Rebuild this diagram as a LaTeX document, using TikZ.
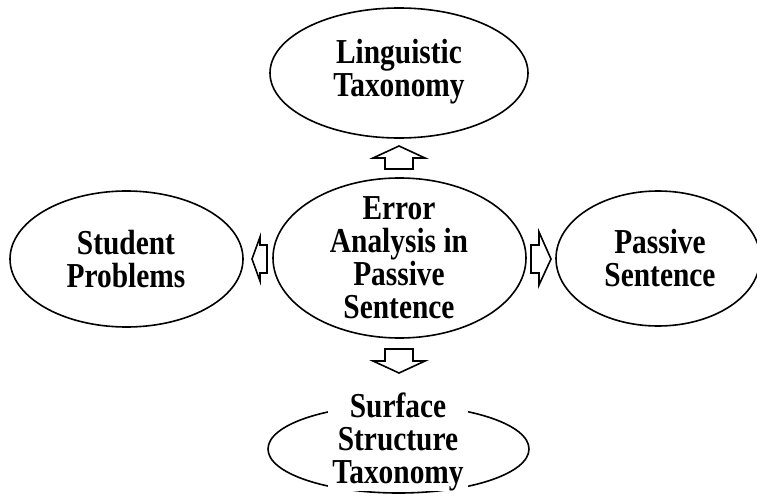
\documentclass[tikz,border=0pt]{standalone}
\usepackage{fontspec}
\setmainfont{Liberation Serif}
\newfontfamily\narrowserif[FakeStretch=0.84]{Liberation Serif}
\usetikzlibrary{shapes.geometric}
\tikzset{
  ell/.style={draw, ellipse, line width=1.6pt, inner sep=0pt},
  lbl/.style={align=center, font=\narrowserif\fontsize{35}{33}\selectfont\bfseries, inner sep=0pt},
  blockarrow/.style={draw, line width=1.6pt, fill=white, line join=miter}
}
\begin{document}
\begin{tikzpicture}[x=1pt,y=-1pt]
\useasboundingbox (0,0) rectangle (757,497);
% ellipses
\node[ell, minimum width=258pt, minimum height=130pt] (top) at (399,73) {};
\node[ell, minimum width=253pt, minimum height=160pt] (mid) at (399.5,258) {};
\node[ell, minimum width=233pt, minimum height=136pt] (lft) at (126.5,259) {};
\node[ell, minimum width=204pt, minimum height=135pt] (rgt) at (658,258.5) {};
\node[ell, minimum width=261pt, minimum height=88pt] (bot) at (398.5,449) {};
% texts
\node[lbl] (ttop) at (399,72) {Linguistic\\Taxonomy};
\node[lbl] (tmid) at (399,258) {Error\\Analysis in\\Passive\\Sentence};
\node[lbl] (tlft) at (126,259) {Student\\Problems};
\node[lbl] (trgt) at (660,258) {Passive\\Sentence};
\node[lbl, fill=white, inner xsep=4pt] (tbot) at (398,442) {Surface\\Structure\\Taxonomy};
% block arrows
\coordinate (upTip) at (399,146);
\draw[blockarrow] (upTip) -- (425,158) -- (413,158) -- (413,169) -- (385,169) -- (385,158) -- (373,158) -- cycle;
\coordinate (dnTip) at (399,373);
\draw[blockarrow] (dnTip) -- (425,361) -- (413,361) -- (413,349) -- (385,349) -- (385,361) -- (373,361) -- cycle;
\coordinate (lfTip) at (252,259);
\draw[blockarrow] (lfTip) -- (260,237) -- (260,245) -- (267,245) -- (267,273) -- (260,273) -- (260,281) -- cycle;
\coordinate (rtTip) at (551,259);
\draw[blockarrow] (rtTip) -- (539,232) -- (539,245) -- (531,245) -- (531,273) -- (539,273) -- (539,285) -- cycle;
\end{tikzpicture}
\end{document}
